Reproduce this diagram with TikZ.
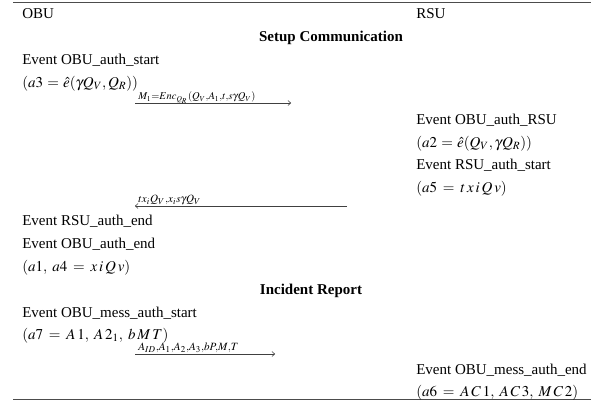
\documentclass[tikz,border=0pt]{standalone}
\usepackage{amsmath}
\usepackage{mathptmx}
\usepackage{fontspec}
\setmainfont{Liberation Serif}
\usetikzlibrary{arrows.meta}
\newcommand{\kk}{\mkern2.2mu}
\newcommand{\kc}{,\mkern4mu}
\thickmuskip=7mu plus 2mu
\tikzset{
  cell/.style={anchor=base west, inner sep=0pt, font=\fontsize{10pt}{12pt}\selectfont},
  head/.style={anchor=base, inner sep=0pt, font=\fontsize{10pt}{12pt}\selectfont\bfseries},
  msg/.style={draw=black!75, line width=0.4pt, -{To[length=2.2pt,width=3.6pt]}},
  lbl/.style={anchor=base west, inner sep=0pt, font=\fontsize{10pt}{12pt}\selectfont},
  lblsmall/.style={anchor=base west, inner sep=0pt, font=\fontsize{9pt}{11pt}\selectfont},
  rule/.style={draw=black!70, line width=0.6pt}
}
\begin{document}
\begin{tikzpicture}[x=0.6667pt,y=-0.6667pt]
\useasboundingbox (0,0) rectangle (597,401);
\coordinate (tl) at (13,2); \coordinate (tr) at (591,2);
\coordinate (bl) at (13,399); \coordinate (br) at (591,399);
\draw[rule] (tl) -- (tr);
\draw[rule] (bl) -- (br);
% headers
\node[cell] (hobu) at (22,18) {OBU};
\node[cell] (hrsu) at (416,18) {RSU};
\node[head] (setup) at (331,41) {Setup Communication};
% setup
\node[cell] (e1) at (22,64) {Event OBU\_auth\_start};
\node[cell] (a3) at (22,87) {$\thickmuskip=5mu (a3 = \hat{e}(\gamma Q_V, Q_R))$};
\coordinate (m1s) at (135,103); \coordinate (m1e) at (291,103);
\draw[msg] (m1s) -- (m1e);
\node[lblsmall] (l1) at (138,99.5) {$\scriptstyle M_1=Enc_{Q_R}(Q_V,A_1,t,s\gamma Q_V)$};
\node[cell] (e2) at (416,124) {Event OBU\_auth\_RSU};
\node[cell] (a2) at (416,147) {$\thickmuskip=5mu (a2 = \hat{e}(Q_V, \gamma Q_R))$};
\node[cell] (e3) at (416,169) {Event RSU\_auth\_start};
\node[cell] (a5) at (416,192) {$(a5 = t\kk x\kk i\kk Q\kk v)$};
\coordinate (m2s) at (347,206); \coordinate (m2e) at (135,206);
\draw[msg] (m2s) -- (m2e);
\node[lbl] (l2) at (138,202.5) {$\scriptstyle tx_iQ_V,x_is\gamma Q_V$};
\node[cell] (e4) at (22,225) {Event RSU\_auth\_end};
\node[cell] (e5) at (22,248) {Event OBU\_auth\_end};
\node[cell] (a14) at (22,271) {$(a1\kc a4 = x\kk i\kk Q\kk v)$};
% incident
\node[head] (inc) at (311,294) {Incident Report};
\node[cell] (e6) at (22,317) {Event OBU\_mess\_auth\_start};
\node[cell] (a7) at (22,339) {$(a7 = A\kk 1\kc A\kk 2_1\kc b\kk M\kk T)$};
\coordinate (m3s) at (135,354); \coordinate (m3e) at (275,354);
\draw[msg] (m3s) -- (m3e);
\node[lbl] (l3) at (138,350.5) {$\scriptstyle A_{ID},A_1,A_2,A_3,bP,M,T$};
\node[cell] (e7) at (416,374) {Event OBU\_mess\_auth\_end};
\node[cell] (a6) at (416,396) {$(a6 = A\kk C\kk 1\kc A\kk C\kk 3\kc M\kk C\kk 2)$};
\end{tikzpicture}
\end{document}
